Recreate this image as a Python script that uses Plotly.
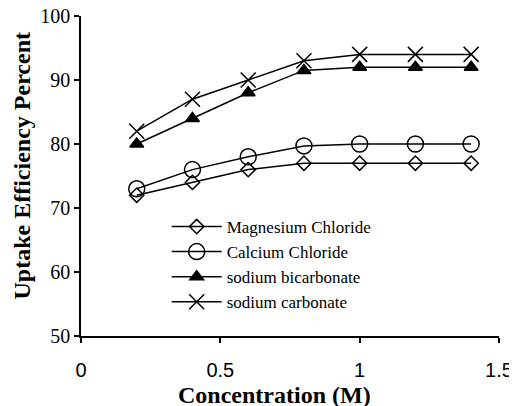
import plotly.graph_objects as go

# ── 資料 ─────────────────────────────────────────
concentration = [0.2, 0.4, 0.6, 0.8, 1.0, 1.2, 1.4]
magnesium_chloride = [72, 74, 76, 77, 77, 77, 77]
calcium_chloride = [73, 76, 78, 79.7, 80, 80, 80]
sodium_bicarbonate = [80, 84, 88, 91.5, 92, 92, 92]
sodium_carbonate = [82, 87, 90, 93, 94, 94, 94]

x_ticks = [0, 0.5, 1, 1.5]
y_ticks = [50, 60, 70, 80, 90, 100]

SERIF = "Liberation Serif, Times New Roman, serif"
SANS = "Liberation Sans, Arial, sans-serif"

series = [
    ("Magnesium Chloride", magnesium_chloride, "diamond-open", 11),
    ("Calcium Chloride", calcium_chloride, "circle-open", 16),
    ("sodium bicarbonate", sodium_bicarbonate, "triangle-up", 12),
    ("sodium carbonate", sodium_carbonate, "x-thin-open", 15),
]

fig = go.Figure()
for name, values, symbol, size in series:
    fig.add_trace(go.Scatter(
        x=concentration,
        y=values,
        mode="lines+markers",
        name=name,
        line=dict(color="black", width=1.5),
        marker=dict(symbol=symbol, size=size, color="black",
                    line=dict(color="black", width=1.5)),
    ))

axis_common = dict(
    showline=True,
    linecolor="black",
    linewidth=1.5,
    mirror=False,
    showgrid=False,
    zeroline=False,
    ticks="outside",
    ticklen=5,
    tickwidth=1.5,
    tickcolor="black",
    automargin=False,
    ticklabeloverflow="allow",
)

# 軸標題用 annotation 精確定位
fig.add_annotation(
    text="<b>Concentration (M)</b>",
    xref="paper", yref="paper", x=0.462, y=-0.185,
    xanchor="center", yanchor="middle", showarrow=False,
    font=dict(family=SERIF, size=24, color="black"),
)
fig.add_annotation(
    text="<b>Uptake Efficiency Percent</b>",
    xref="paper", yref="paper", x=-0.141, y=0.53,
    xanchor="center", yanchor="middle", showarrow=False, textangle=-90,
    font=dict(family=SERIF, size=24, color="black"),
)

fig.update_layout(
    width=509,
    height=398,
    paper_bgcolor="white",
    plot_bgcolor="white",
    margin=dict(l=73, r=18, t=8, b=70),
    showlegend=True,
    legend=dict(
        x=0.205,
        y=0.397,
        xanchor="left",
        yanchor="top",
        bgcolor="rgba(0,0,0,0)",
        font=dict(family=SERIF, size=17, color="black"),
        itemwidth=50,
        tracegroupgap=0,
    ),
    xaxis=dict(
        range=[0, 1.5],
        tickvals=x_ticks,
        ticktext=[str(v) for v in x_ticks],
        tickfont=dict(family=SANS, size=20, color="black"),
        ticklabelstandoff=10,
        **axis_common,
    ),
    yaxis=dict(
        range=[50, 100],
        tickvals=y_ticks,
        tickfont=dict(family=SERIF, size=20, color="black"),
        **axis_common,
    ),
)

fig.write_html("out.html")
